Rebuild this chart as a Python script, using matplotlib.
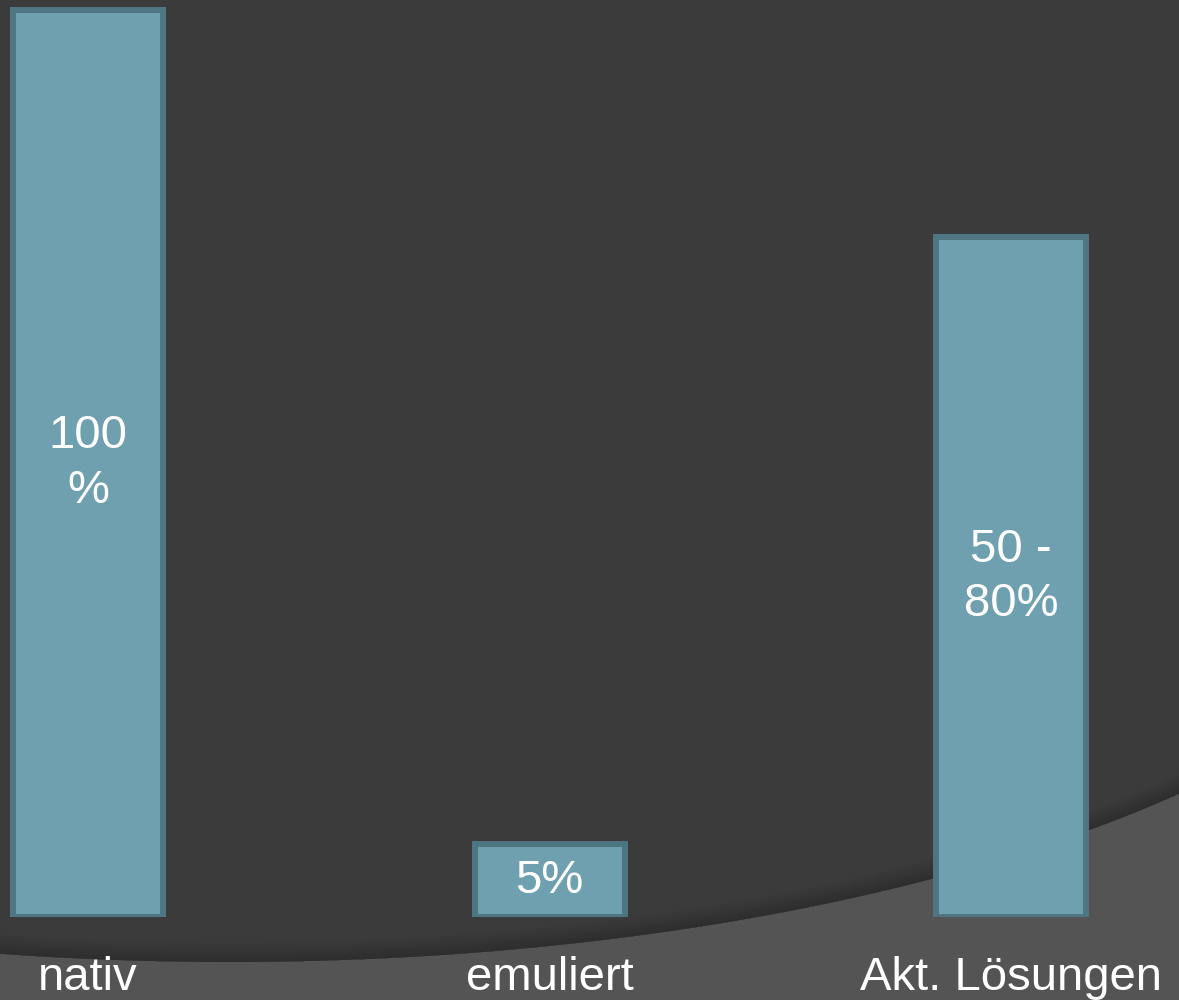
import matplotlib
matplotlib.use("Agg")
import numpy as np
import matplotlib.pyplot as plt

plt.rcParams['font.family'] = ['Liberation Sans', 'DejaVu Sans']

categories = ["nativ", "emuliert", "Akt. Lösungen"]
values = [100, 8, 75]
bar_texts = ["100\n%", "5%", "50 -\n80%"]

bg_dark = "#3b3b3b"
bg_light = "#545454"
bar_fill = "#6fa0b0"
bar_edge = "#4e7582"

fig = plt.figure(figsize=(11.79, 10.0), dpi=100)
fig.patch.set_facecolor(bg_light)

# background: dark area above a wide elliptical arc (pixel coordinates)
bg = fig.add_axes([0, 0, 1, 1], zorder=0)
bg.set_xlim(0, 1179)
bg.set_ylim(1000, 0)
bg.axis("off")
xs = np.linspace(0, 1179, 300)
arc = 480 + 482 * np.sqrt(1 - ((xs - 230) / 1250) ** 2)
bg.fill_between(xs, -10, arc, color=bg_dark, lw=0)
# soft shadow along the arc
for k in range(1, 14):
    bg.fill_between(xs, arc - k * 1.5, arc, color="black", alpha=0.011, lw=0)

ax = fig.add_axes([0, 0.083, 1, 0.917], zorder=1)
ax.patch.set_alpha(0)
x = range(len(categories))
bars = ax.bar(x, values, width=0.325, color=bar_fill, edgecolor=bar_edge, linewidth=4.3)
ax.bar_label(bars, labels=bar_texts, label_type="center", color="white",
             fontsize=34, linespacing=1.3)

ax.set_xlim(-0.1907, 2.364)
ax.set_ylim(0, 101.1)
ax.set_xticks(list(x))
ax.set_xticklabels(categories, color="white", fontsize=34)
ax.tick_params(axis="x", length=0, pad=28)
ax.set_yticks([])
for s in ax.spines.values():
    s.set_visible(False)

fig.savefig("out.png", dpi=100, facecolor=fig.get_facecolor())
